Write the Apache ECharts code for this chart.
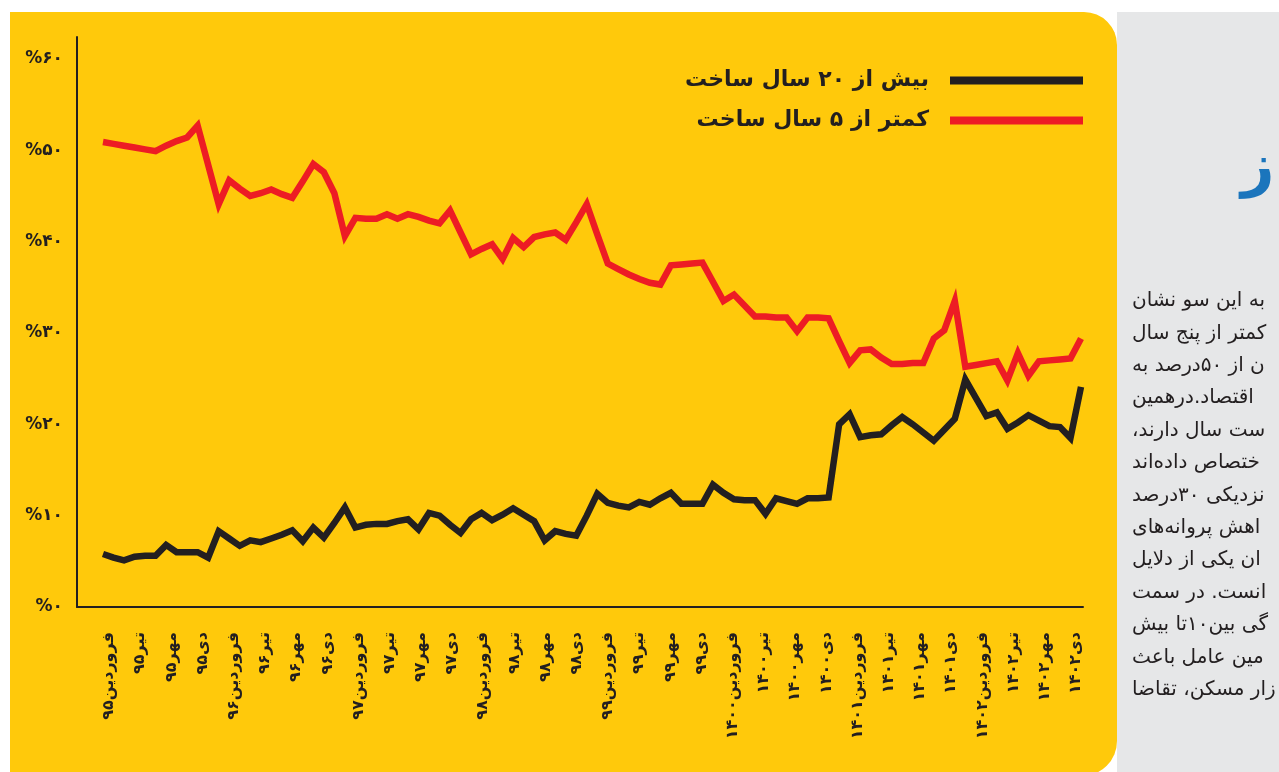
<!DOCTYPE html>
<html>
<head>
<meta charset="utf-8">
<title>chart</title>
<style>
html, body { margin: 0; padding: 0; background: #fff; }
#main { width: 1279px; height: 772px; }
</style>
<script src="https://cdn.jsdelivr.net/npm/echarts@6.0.0/dist/echarts.min.js"></script>
</head>
<body>
<div id="main"></div>
<script>
var monthNames = ['فروردین', 'اردیبهشت', 'خرداد', 'تیر', 'مرداد', 'شهریور', 'مهر', 'آبان', 'آذر', 'دی', 'بهمن', 'اسفند'];
var years = ['۹۵', '۹۶', '۹۷', '۹۸', '۹۹', '۱۴۰۰', '۱۴۰۱', '۱۴۰۲'];
var yTickLabels = ['%۰', '%۱۰', '%۲۰', '%۳۰', '%۴۰', '%۵۰', '%۶۰'];
var seriesNames = ['بیش از ۲۰ سال ساخت', 'کمتر از ۵ سال ساخت'];

// سهم واحدهای بیش از ۲۰ سال ساخت (درصد، ماهانه از فروردین ۹۵ تا دی ۱۴۰۲)
var over20 = [
    5.8, 5.4, 5.1, 5.5, 5.6, 5.6, 6.8, 6.0, 6.0, 6.0, 5.4, 8.3,
    7.5, 6.7, 7.3, 7.1, 7.5, 7.9, 8.4, 7.2, 8.7, 7.6, 9.2, 10.9,
    8.7, 9.0, 9.1, 9.1, 9.4, 9.6, 8.5, 10.3, 10.0, 9.0, 8.1, 9.6,
    10.3, 9.5, 10.1, 10.8, 10.1, 9.4, 7.3, 8.3, 8.0, 7.8, 10.0, 12.4,
    11.4, 11.1, 10.9, 11.5, 11.2, 11.9, 12.5, 11.3, 11.3, 11.3, 13.4, 12.5,
    11.8, 11.7, 11.7, 10.2, 11.9, 11.6, 11.3, 11.9, 11.9, 12.0, 20.0, 21.1,
    18.6, 18.8, 18.9, 19.9, 20.8, 20.0, 19.1, 18.2, 19.4, 20.6, 24.9, 22.9,
    20.9, 21.3, 19.5, 20.2, 21.0, 20.4, 19.8, 19.7, 18.5, 24.1
];
// سهم واحدهای کمتر از ۵ سال ساخت
var under5 = [
    50.9, 50.7, 50.5, 50.3, 50.1, 49.9, 50.5, 51.0, 51.4, 52.7, 48.4, 44.1,
    46.7, 45.8, 45.0, 45.3, 45.7, 45.2, 44.8, 46.6, 48.5, 47.6, 45.3, 40.6,
    42.6, 42.5, 42.5, 43.0, 42.5, 43.0, 42.7, 42.3, 42.0, 43.4, 41.0, 38.6,
    39.2, 39.7, 38.1, 40.4, 39.4, 40.5, 40.8, 41.0, 40.2, 42.1, 44.1, 40.8,
    37.6, 37.0, 36.4, 35.9, 35.5, 35.3, 37.4, 37.5, 37.6, 37.7, 35.6, 33.5,
    34.2, 33.0, 31.8, 31.8, 31.7, 31.7, 30.2, 31.7, 31.7, 31.6, 29.1, 26.7,
    28.1, 28.2, 27.3, 26.6, 26.6, 26.7, 26.7, 29.4, 30.3, 33.5, 26.3, 26.5,
    26.7, 26.9, 24.8, 27.8, 25.3, 26.9, 27.0, 27.1, 27.2, 29.4
];

// متن ستون کناری (بریده شده)
var sideText = [
    'به این سو نشان',
    'کمتر از پنج سال',
    'ن از ۵۰درصد به',
    'اقتصاد.درهمین',
    'ست سال دارند،\u200f',
    'ختصاص داده‌اند',
    'نزدیکی ۳۰درصد',
    'اهش پروانه‌های',
    'ان یکی از دلایل',
    'انست. در سمت',
    'گی بین۱۰تا بیش',
    'مین عامل باعث',
    'زار مسکن، تقاضا'
];

var categories = [];
for (var y = 0; y < years.length; y++) {
    for (var m = 0; m < monthNames.length; m++) {
        if (categories.length < over20.length) {
            categories.push(monthNames[m] + years[y]);
        }
    }
}

var font = 'DejaVu Sans';
var ink = '#231f20';

var graphics = [
    { type: 'rect', z: -10, shape: { x: 1117, y: 12, width: 162, height: 760 }, style: { fill: '#e6e7e8' } },
    { type: 'rect', z: -9, shape: { x: 10, y: 12, width: 1107, height: 764, r: [0, 33, 35, 0] }, style: { fill: '#ffc90b' } },
    { type: 'text', z: -9, style: { text: 'ز', x: 1241, y: 170, fill: '#1b75bc', font: 'bold 58px "DejaVu Sans"', verticalAlign: 'middle' } }
];
for (var i = 0; i < sideText.length; i++) {
    graphics.push({
        type: 'text', z: -9,
        style: { text: sideText[i], x: 1132, y: 301 + i * 32.4, fill: ink, font: '20px "DejaVu Sans"', verticalAlign: 'middle', align: 'left' }
    });
}

var hiddenY = function(idx) {
    return { gridIndex: idx, type: 'value', min: 0, max: 62.4, show: false };
};

var e = echarts.init(document.getElementById('main'));
var a = {
    animation: false,
    textStyle: { fontFamily: font },
    graphic: graphics,
    legend: {
        data: seriesNames,
        orient: 'vertical',
        right: 196,
        top: 67,
        padding: 0,
        align: 'right',
        icon: 'rect',
        itemWidth: 133,
        itemHeight: 8,
        itemGap: 13,
        textStyle: { fontFamily: font, fontSize: 22, fontWeight: 'bold', color: ink, lineHeight: 27, padding: [0, 16, 0, 0] }
    },
    // grid 0: axis lines and y labels, grid 1: the data, grid 2: month labels
    grid: [
        { left: 77, right: 196, top: 37, bottom: 165 },
        { left: 103, right: 198, top: 37, bottom: 165 },
        { left: 109, right: 203, top: 37, bottom: 165 }
    ],
    xAxis: [{
        gridIndex: 0,
        type: 'value',
        min: 0,
        max: 1,
        axisLine: { show: true, lineStyle: { color: ink, width: 2 } },
        axisTick: { show: false },
        axisLabel: { show: false },
        splitLine: { show: false }
    }, {
        gridIndex: 1,
        type: 'category',
        data: categories,
        boundaryGap: false,
        show: false
    }, {
        gridIndex: 2,
        type: 'category',
        data: categories,
        boundaryGap: false,
        axisLine: { show: false },
        axisTick: { show: false },
        splitLine: { show: false },
        axisLabel: { interval: 2, rotate: 90, margin: 25, color: ink, fontSize: 16, fontWeight: 'bold', fontFamily: font }
    }],
    yAxis: [{
        gridIndex: 0,
        type: 'value',
        min: 0,
        max: 62.4,
        interval: 10,
        axisLine: { show: true, lineStyle: { color: ink, width: 2 } },
        axisTick: { show: false },
        splitLine: { show: false },
        axisLabel: {
            margin: 14,
            color: ink,
            fontSize: 17,
            fontWeight: 'bold',
            fontFamily: font,
            showMaxLabel: false,
            formatter: function(v) { return yTickLabels[Math.round(v / 10)] || ''; }
        }
    }, hiddenY(1), hiddenY(2)],
    series: [{
        name: seriesNames[0],
        type: 'line',
        xAxisIndex: 1,
        yAxisIndex: 1,
        data: over20,
        showSymbol: false,
        itemStyle: { color: ink },
        lineStyle: { color: ink, width: 6.5, join: 'miter', miterLimit: 10 }
    }, {
        name: seriesNames[1],
        type: 'line',
        xAxisIndex: 1,
        yAxisIndex: 1,
        data: under5,
        showSymbol: false,
        itemStyle: { color: '#ed1c24' },
        lineStyle: { color: '#ed1c24', width: 6.5, join: 'miter', miterLimit: 10 }
    }]
};
e.setOption(a);
</script>
</body>
</html>
